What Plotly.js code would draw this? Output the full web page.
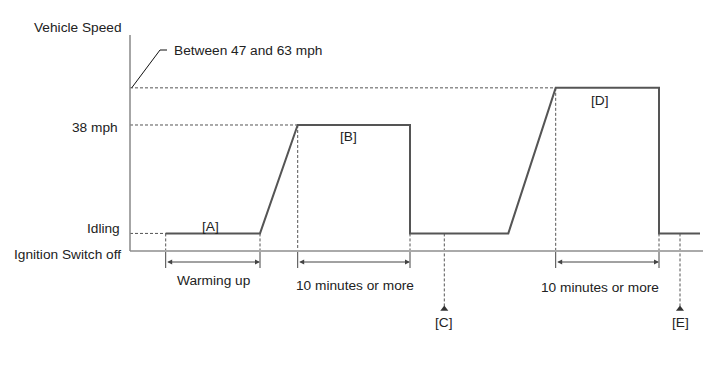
<!DOCTYPE html>
<html>
<head>
<meta charset="utf-8">
<script src="https://cdn.plot.ly/plotly-3.0.1.min.js"></script>
<style>html,body{margin:0;padding:0;background:#fff;}#chart{width:713px;height:381px;}</style>
</head>
<body>
<div id="chart"></div>
<script>
// ---- data (time in arbitrary units from the axis origin, speed in mph-like units) ----
const levelNames = ['Ignition Switch off', 'Idling', '38 mph', 'Between 47 and 63 mph'];
const levelSpeed = [0, 5.3, 38, 49.2];

const profileTime  = [35.7, 130, 167.7, 280, 280, 378.3, 425.7, 529, 529, 570];
const profileSpeed = [5.3, 5.3, 38, 38, 5.3, 5.3, 49.2, 49.2, 5.3, 5.3];

const phaseLabels = ['[A]', '[B]', '[D]'];
const phaseTime   = [80, 218, 470];
const phaseSpeed  = [5.3, 38, 49.2];

const intervalStart  = [35.7, 167.7, 425.7];
const intervalEnd    = [130, 280, 529];
const intervalStartSpeed = [5.3, 38, 49.2];
const intervalEndSpeed   = [5.3, 5.3, 5.3];
const intervalLabels = ['Warming up', '10 minutes or more', '10 minutes or more'];

const checkTimes  = [314.3, 550];
const checkLabels = ['[C]', '[E]'];

const axisTitle = 'Vehicle Speed';

// ---- scale helpers (layout only) ----
const S = 3.316;              // px per speed unit
const yMin = -130 / S, yMax = 251 / S;
const belowPx = px => -(px) / S;   // offset below the axis in px -> speed units
const ARROW_Y = belowPx(11);
const TICK_BOTTOM = belowPx(17);
const TRI_Y = belowPx(58);

const font = {family: 'Liberation Sans, Arial, sans-serif', size: 13.7, color: '#222'};
const lineCol = '#555';

const traces = [];

// horizontal dashed guides from axis to the level start
const gx = [], gy = [];
[[5.3, 35.7], [38, 167.7], [49.2, 425.7]].forEach(([s, t]) => { gx.push(0, t, null); gy.push(s, s, null); });
// vertical dashed guides down to the time axis
intervalStart.forEach((t, i) => { gx.push(t, t, null); gy.push(intervalStartSpeed[i], 0, null); });
intervalEnd.forEach((t, i) => { gx.push(t, t, null); gy.push(intervalEndSpeed[i], 0, null); });
traces.push({x: gx, y: gy, mode: 'lines', line: {color: lineCol, width: 1, dash: '3px,2px'}, hoverinfo: 'skip'});

// check point dashed lines
const cx = [], cy = [];
checkTimes.forEach(t => { cx.push(t, t, null); cy.push(5.3, TRI_Y, null); });
traces.push({x: cx, y: cy, mode: 'lines', line: {color: lineCol, width: 1, dash: '3px,2px'}, hoverinfo: 'skip'});
traces.push({x: checkTimes, y: checkTimes.map(() => TRI_Y), mode: 'markers',
  marker: {symbol: 'triangle-up', size: 7, color: '#333'}, hoverinfo: 'skip'});

// solid ticks below axis
const tx = [], ty = [];
intervalStart.concat(intervalEnd).forEach(t => { tx.push(t, t, null); ty.push(0, TICK_BOTTOM, null); });
traces.push({x: tx, y: ty, mode: 'lines', line: {color: '#444', width: 1}, hoverinfo: 'skip'});

// axes
traces.push({x: [0, 573], y: [0, 0], mode: 'lines', line: {color: '#aaa', width: 2}, hoverinfo: 'skip'});
traces.push({x: [0, 0], y: [0, (251 - 35) / S], mode: 'lines', line: {color: '#888', width: 1.5}, hoverinfo: 'skip'});

// leader line for top level
traces.push({x: [1.7, 30, 37], y: [49.2, (251 - 50) / S, (251 - 50) / S], mode: 'lines',
  line: {color: '#111', width: 1}, hoverinfo: 'skip'});

// speed profile
traces.push({x: profileTime, y: profileSpeed, mode: 'lines', line: {color: lineCol, width: 2}, hoverinfo: 'skip'});

const ann = [];
// level labels
ann.push({x: -10, y: levelSpeed[2], text: levelNames[2], xanchor: 'right', yanchor: 'middle', yshift: -3, showarrow: false, font});
ann.push({x: -8, y: levelSpeed[1], text: levelNames[1], xanchor: 'right', yanchor: 'middle', yshift: 5, showarrow: false, font});
ann.push({x: -7, y: levelSpeed[0], text: levelNames[0], xanchor: 'right', yanchor: 'middle', yshift: -3, showarrow: false, font});
ann.push({x: 42, y: (251 - 50) / S, text: levelNames[3], xanchor: 'left', yanchor: 'middle', showarrow: false, font});
ann.push({x: -98, y: (251 - 27) / S, text: axisTitle, xanchor: 'left', yanchor: 'middle', showarrow: false, font});

// phase labels
ann.push({x: phaseTime[0], y: phaseSpeed[0], text: phaseLabels[0], xanchor: 'center', yanchor: 'middle', yshift: 7, showarrow: false, font});
ann.push({x: phaseTime[1], y: phaseSpeed[1], text: phaseLabels[1], xanchor: 'center', yanchor: 'middle', yshift: -12, showarrow: false, font});
ann.push({x: phaseTime[2], y: phaseSpeed[2], text: phaseLabels[2], xanchor: 'center', yanchor: 'middle', yshift: -13, showarrow: false, font});

// interval arrows and labels
intervalStart.forEach((t0, i) => {
  const t1 = intervalEnd[i];
  ann.push({x: t1, y: ARROW_Y, ax: t0, ay: ARROW_Y, axref: 'x', ayref: 'y', xref: 'x', yref: 'y',
    text: '', showarrow: true, arrowhead: 2, arrowside: 'end+start', arrowsize: 1, arrowwidth: 1,
    arrowcolor: '#444', standoff: 0, startstandoff: 0});
});
ann.push({x: (intervalStart[0] + intervalEnd[0]) / 2 + 1, y: belowPx(29), text: intervalLabels[0], xanchor: 'center', yanchor: 'middle', showarrow: false, font});
ann.push({x: (intervalStart[1] + intervalEnd[1]) / 2 + 1, y: belowPx(34), text: intervalLabels[1], xanchor: 'center', yanchor: 'middle', showarrow: false, font});
ann.push({x: (intervalStart[2] + intervalEnd[2]) / 2 - 7, y: belowPx(36), text: intervalLabels[2], xanchor: 'center', yanchor: 'middle', showarrow: false, font});

// check labels
checkTimes.forEach((t, i) => {
  ann.push({x: t, y: belowPx(71), text: checkLabels[i], xanchor: 'center', yanchor: 'middle', showarrow: false, font});
});

const layout = {
  width: 713, height: 381,
  margin: {l: 0, r: 0, t: 0, b: 0},
  paper_bgcolor: '#fff', plot_bgcolor: '#fff',
  showlegend: false,
  xaxis: {range: [-130, 583], visible: false, fixedrange: true},
  yaxis: {range: [yMin, yMax], visible: false, fixedrange: true},
  annotations: ann,
  font
};

Plotly.newPlot('chart', traces, layout, {displayModeBar: false, staticPlot: true});
</script>
</body>
</html>
